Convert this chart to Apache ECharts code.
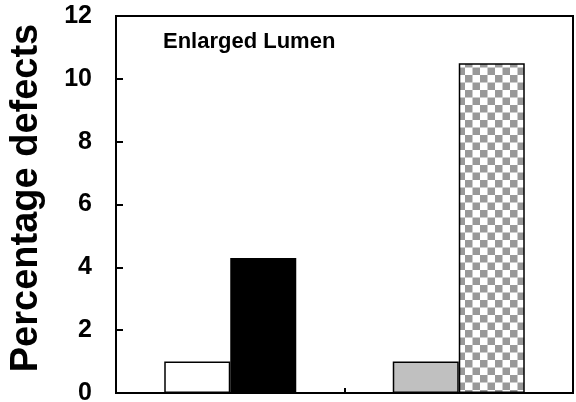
<!DOCTYPE html>
<html>
<head>
<meta charset="utf-8">
<script src="https://cdn.jsdelivr.net/npm/echarts@6/dist/echarts.min.js"></script>
<style>
  html, body { margin: 0; padding: 0; background: #fff; }
  #chart { width: 576px; height: 402px; }
</style>
</head>
<body>
<div id="chart"></div>
<script>
// Two groups, each with a control bar and a treatment bar
const categories = ['Group 1', 'Group 2'];
const controlValues = [1.0, 1.0];
const treatedValues = [4.3, 10.5];
const yMin = 0, yMax = 12, yStep = 2;
const titleText = 'Enlarged Lumen';
const yAxisTitle = 'Percentage defects';

const FONT = "'Liberation Sans', Arial, sans-serif";

// Checkerboard fill for the last bar
function checkerPattern() {
  const c = document.createElement('canvas');
  c.width = 15; c.height = 15;
  const g = c.getContext('2d');
  g.fillStyle = '#ffffff';
  g.fillRect(0, 0, 15, 15);
  g.fillStyle = '#999999';
  g.fillRect(0, 0, 7.5, 7.5);
  g.fillRect(7.5, 7.5, 7.5, 7.5);
  return { image: c, repeat: 'repeat' };
}

const controlFills = ['#ffffff', '#c0c0c0'];
const treatedFills = ['#000000', checkerPattern()];

const chart = echarts.init(document.getElementById('chart'), null, { renderer: 'canvas' });

chart.setOption({
  backgroundColor: '#ffffff',
  animation: false,
  grid: {
    left: 116, right: 3, top: 16, bottom: 9,
    containLabel: false,
    outerBoundsMode: 'none',
    show: true, borderColor: '#000', borderWidth: 2, backgroundColor: 'transparent'
  },
  graphic: [
    {
      type: 'text',
      x: 163, y: 42,
      style: {
        text: titleText,
        font: "bold 22px " + FONT,
        fill: '#000',
        textVerticalAlign: 'middle'
      }
    },
    {
      type: 'text',
      x: 27, y: 198,
      rotation: Math.PI / 2,
      style: {
        text: yAxisTitle,
        font: "bold 38px " + FONT,
        fill: '#000',
        textAlign: 'center',
        textVerticalAlign: 'middle'
      }
    }
  ],
  xAxis: {
    type: 'category',
    data: categories,
    boundaryGap: true,
    axisLine: { lineStyle: { color: '#000', width: 2 } },
    axisTick: { show: true, inside: true, length: 5, lineStyle: { color: '#000', width: 2 } },
    axisLabel: { show: false },
    splitLine: { show: false }
  },
  yAxis: {
    type: 'value',
    min: yMin, max: yMax, interval: yStep,
    axisLine: { show: true, lineStyle: { color: '#000', width: 2 } },
    axisTick: { show: true, inside: true, length: 7, lineStyle: { color: '#000', width: 2 } },
    axisLabel: {
      margin: 24,
      color: '#000',
      fontFamily: FONT,
      fontWeight: 'bold',
      fontSize: 25,
      hideOverlap: false
    },
    splitLine: { show: false }
  },
  series: [
    {
      type: 'bar',
      barWidth: 66,
      barGap: '0%',
      data: controlValues.map((v, i) => ({
        value: v,
        itemStyle: { color: controlFills[i], borderColor: '#000', borderWidth: 1.5 }
      }))
    },
    {
      type: 'bar',
      barWidth: 66,
      barGap: '0%',
      data: treatedValues.map((v, i) => ({
        value: v,
        itemStyle: { color: treatedFills[i], borderColor: '#000', borderWidth: 1.5 }
      }))
    }
  ]
});
</script>
</body>
</html>
